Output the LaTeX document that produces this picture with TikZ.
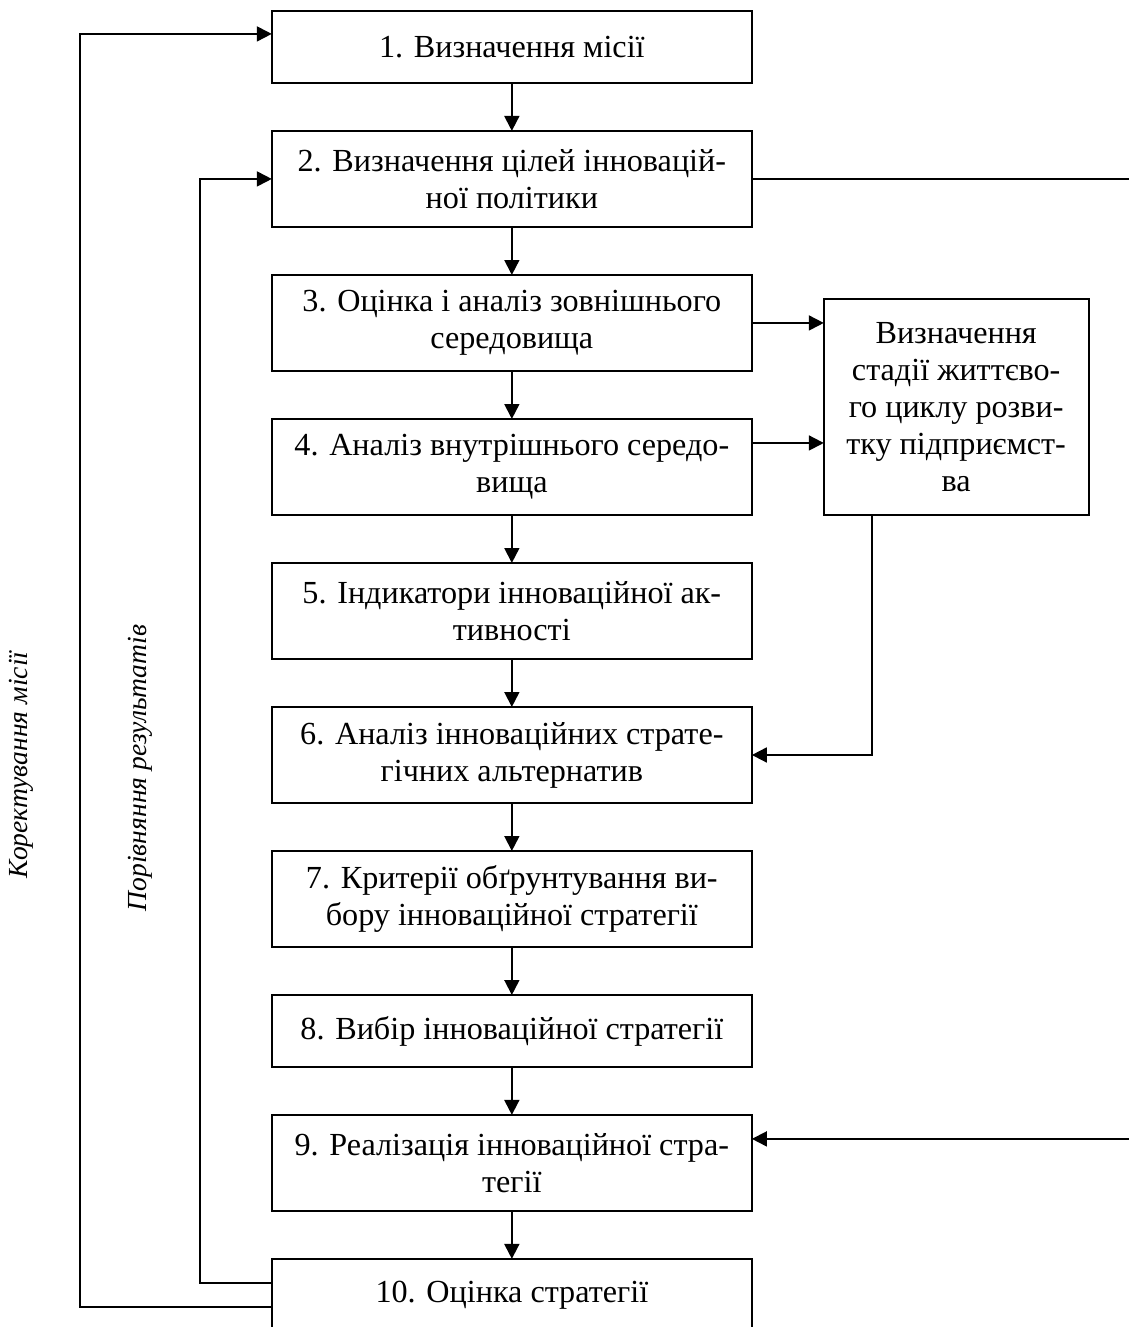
\documentclass[tikz,border=0pt]{standalone}
\usepackage{fontspec}
\setmainfont{Liberation Serif}
\usepackage{tikz}
\usetikzlibrary{positioning}
\usetikzlibrary{arrows.meta}
\tikzset{stepbox/.style={draw,line width=0.9pt,align=center,inner sep=0pt,outer sep=0pt,
 minimum width=7.344cm,minimum height=1.469cm,
 font=\fontsize{14pt}{16.1pt}\selectfont},
 shortbox/.style={stepbox,minimum height=1.10cm},
 sidebox/.style={stepbox,minimum width=4.05cm,minimum height=3.30cm},
 flow/.style={draw,line width=0.8pt,-{Triangle[length=6.5pt,width=6.5pt]}},
 sidelabel/.style={rotate=90,font=\fontsize{12pt}{14pt}\selectfont\itshape},
 node distance=0.734cm,
 }

\begin{document}
\begin{tikzpicture}
    \useasboundingbox (0,0) rectangle (17.26,-20.30);
    \node[shortbox] (mission) at (7.83,-0.719) {1. Визначення місії};
    \node[stepbox,below=of mission] (goals) {2. Визначення цілей інновацій-\\ної політики};
    \node[stepbox,below=of goals] (extenv) {3. Оцінка і аналіз зовнішнього\\середовища};
    \node[stepbox,below=of extenv] (intenv) {4. Аналіз внутрішнього середо-\\вища};
    \node[stepbox,below=of intenv] (indic) {5. Індикатори інноваційної ак-\\тивності};
    \node[stepbox,below=of indic] (altern) {6. Аналіз інноваційних страте-\\гічних альтернатив};
    \node[stepbox,below=of altern] (crit) {7. Критерії обґрунтування ви-\\бору інноваційної стратегії};
    \node[shortbox,below=of crit] (choice) {8. Вибір інноваційної стратегії};
    \node[stepbox,below=of choice] (impl) {9. Реалізація інноваційної стра-\\тегії};
    \node[shortbox,below=of impl] (review) {10. Оцінка стратегії};
    \node[sidebox,anchor=north west] (lifecycle) at ([xshift=1.10cm,yshift=-0.367cm]extenv.north east)
        {Визначення\\стадії життєво-\\го циклу розви-\\тку підприємст-\\ва};

    \node[sidelabel] (correct) at (0.32,-11.70) {Коректування місії};
    \node[sidelabel] (compare) at (2.14,-11.75) {Порівняння результатів};

    \draw[flow] (mission) -- (goals);
    \draw[flow] (goals) -- (extenv);
    \draw[flow] (extenv) -- (intenv);
    \draw[flow] (intenv) -- (indic);
    \draw[flow] (indic) -- (altern);
    \draw[flow] (altern) -- (crit);
    \draw[flow] (crit) -- (choice);
    \draw[flow] (choice) -- (impl);
    \draw[flow] (impl) -- (review);

    \draw[flow] (extenv.east) -- (extenv.east -| lifecycle.west);
    \draw[flow] ([yshift=0.367cm]intenv.east) -- ([yshift=0.367cm]intenv.east -| lifecycle.west);
    \draw[flow] ([xshift=0.734cm]lifecycle.south west) |- (altern.east);

    \draw[flow] (goals.east) -- ++(9.8,0) |- ([yshift=0.367cm]impl.east);

    % feedback from evaluation
    \draw[flow] ([yshift=-0.184cm]review.west) -- ++(-2.94,0) |- ([yshift=0.2cm]mission.west);
    \draw[flow] ([yshift=0.184cm]review.west) -- ++(-1.10,0) |- (goals.west);
\end{tikzpicture}
\end{document}
